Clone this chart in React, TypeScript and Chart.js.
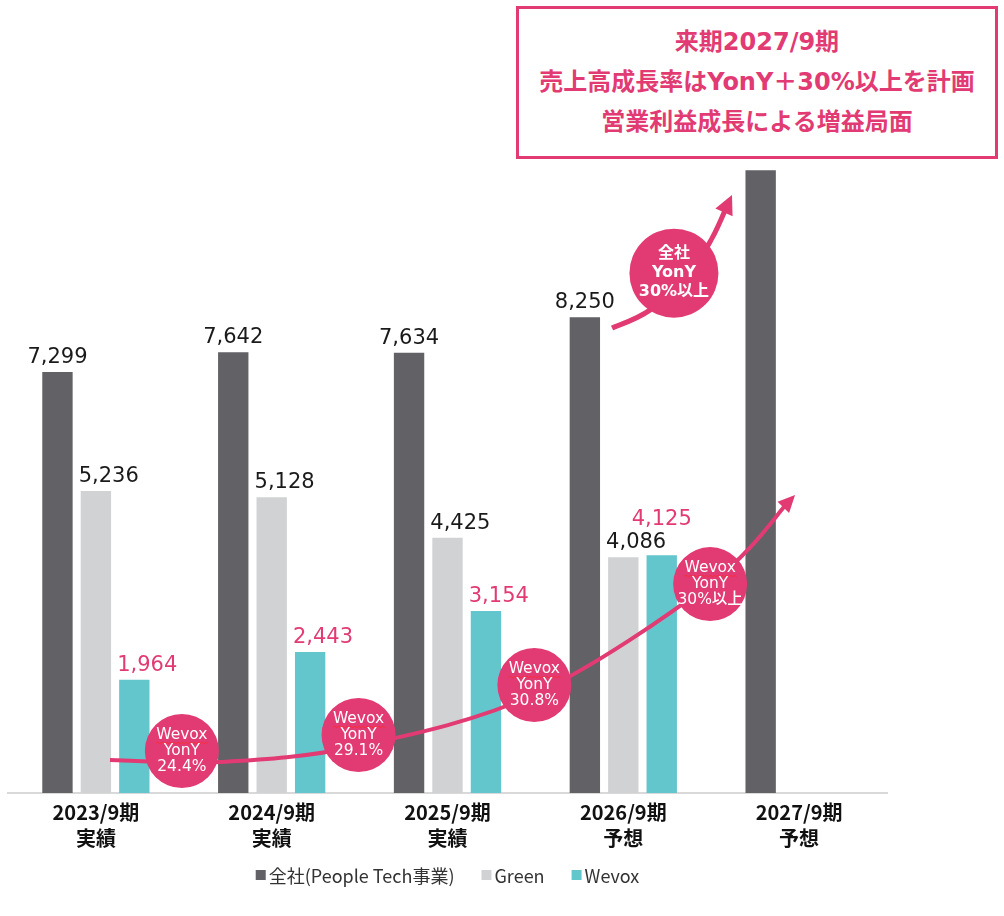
import React, { useEffect, useRef } from 'react';
import { Chart, registerables } from 'chart.js';

Chart.register(...registerables);

// ---------- data ----------
const categories: string[][] = [
  ['2023/9期', '実績'],
  ['2024/9期', '実績'],
  ['2025/9期', '実績'],
  ['2026/9期', '予想'],
  ['2027/9期', '予想'],
];
const seriesNames = ['全社(People Tech事業)', 'Green', 'Wevox'];
const totalValues = [7299, 7642, 7634, 8250, 10800];
const greenValues: (number | null)[] = [5236, 5128, 4425, 4086, null];
const wevoxValues: (number | null)[] = [1964, 2443, 3154, 4125, null];
const showTotalLabel = [true, true, true, true, false];

// annotation paths in (category index, value) units
const wevoxTrend: number[][] = [
  [0.08, 572], [0.706, 537], [1.496, 815], [2.498, 1716], [3.499, 3641], [3.977, 5166],
];
const totalTrend: number[][] = [
  [2.936, 8062], [3.151, 8374], [3.379, 9033], [3.505, 9622], [3.618, 10368],
];
const wevoxBadges = [
  { x: 0.489, y: 728, lines: ['Wevox', 'YonY', '24.4%'] },
  { x: 1.494, y: 1006, lines: ['Wevox', 'YonY', '29.1%'] },
  { x: 2.494, y: 1872, lines: ['Wevox', 'YonY', '30.8%'] },
  { x: 3.494, y: 3623, lines: ['Wevox', 'YonY', '30%以上'] },
];
const totalBadge = { x: 3.288, y: 9015, lines: ['全社', 'YonY', '30%以上'] };
const calloutLines = ['来期2027/9期', '売上高成長率はYonY＋30%以上を計画', '営業利益成長による増益局面'];

// ---------- styles ----------
const PINK = '#e23a73';
const COLORS = ['#616166', '#d1d2d4', '#63c6cd'];
const LATIN = '"DejaVu Sans", "Noto Sans CJK JP", sans-serif';
const CJK = '"Noto Sans CJK JP", sans-serif';

function drawSpline(ctx: CanvasRenderingContext2D, pts: number[][]) {
  ctx.beginPath();
  ctx.moveTo(pts[0][0], pts[0][1]);
  for (let i = 0; i < pts.length - 1; i++) {
    const p0 = pts[i - 1] || pts[i];
    const p1 = pts[i];
    const p2 = pts[i + 1];
    const p3 = pts[i + 2] || p2;
    ctx.bezierCurveTo(
      p1[0] + (p2[0] - p0[0]) / 6, p1[1] + (p2[1] - p0[1]) / 6,
      p2[0] - (p3[0] - p1[0]) / 6, p2[1] - (p3[1] - p1[1]) / 6,
      p2[0], p2[1]
    );
  }
  ctx.stroke();
}

function drawArrow(ctx: CanvasRenderingContext2D, pts: number[][], width: number, headLen: number, headHalf: number) {
  const tip = pts[pts.length - 1];
  const prev = pts[pts.length - 2];
  let dx = tip[0] - prev[0];
  let dy = tip[1] - prev[1];
  const len = Math.hypot(dx, dy);
  dx /= len; dy /= len;
  const shortened = pts.slice(0, -1).concat([[tip[0] - dx * headLen * 0.6, tip[1] - dy * headLen * 0.6]]);
  ctx.save();
  ctx.strokeStyle = PINK;
  ctx.fillStyle = PINK;
  ctx.lineWidth = width;
  ctx.lineCap = 'butt';
  drawSpline(ctx, shortened);
  const bx = tip[0] - dx * headLen;
  const by = tip[1] - dy * headLen;
  ctx.beginPath();
  ctx.moveTo(tip[0], tip[1]);
  ctx.lineTo(bx - dy * headHalf, by + dx * headHalf);
  ctx.lineTo(bx + dy * headHalf, by - dx * headHalf);
  ctx.closePath();
  ctx.fill();
  ctx.restore();
}

function drawBadge(ctx: CanvasRenderingContext2D, cx: number, cy: number, r: number, lines: string[], font: string, lh: number, wavy: boolean) {
  ctx.save();
  ctx.fillStyle = PINK;
  ctx.beginPath();
  ctx.arc(cx, cy, r, 0, Math.PI * 2);
  ctx.fill();
  ctx.fillStyle = '#ffffff';
  ctx.font = font;
  ctx.textAlign = 'center';
  ctx.textBaseline = 'middle';
  lines.forEach((t, i) => {
    const y = cy + (i - (lines.length - 1) / 2) * lh;
    ctx.fillText(t, cx, y);
    if (wavy && i === 0) {
      const w = ctx.measureText(t).width;
      ctx.strokeStyle = '#ff2a2a';
      ctx.lineWidth = 0.8;
      ctx.beginPath();
      let x = cx - w / 2;
      let up = true;
      ctx.moveTo(x, y + 8);
      while (x < cx + w / 2) {
        x += 2;
        ctx.lineTo(x, y + (up ? 7 : 9));
        up = !up;
      }
      ctx.stroke();
    }
  });
  ctx.restore();
}

const overlayPlugin = {
  id: 'overlay',
  afterDatasetsDraw(chart: any) {
    const ctx: CanvasRenderingContext2D = chart.ctx;
    const xs = chart.scales.x;
    const ys = chart.scales.y;
    const P = (p: number[]) => [xs.getPixelForValue(p[0]), ys.getPixelForValue(p[1])];

    // value labels
    const metas = [0, 1, 2].map((i) => chart.getDatasetMeta(i));
    ctx.save();
    ctx.font = `21px ${LATIN}`;
    ctx.textBaseline = 'alphabetic';
    metas.forEach((meta: any, di: number) => {
      const values = chart.data.datasets[di].data;
      meta.data.forEach((bar: any, i: number) => {
        const v = values[i];
        if (v == null) return;
        if (di === 0 && !showTotalLabel[i]) return;
        const text = v.toLocaleString('en-US');
        let x = bar.x;
        let y = bar.y - 9;
        ctx.fillStyle = di === 2 ? PINK : '#1a1a1a';
        ctx.textAlign = 'center';
        if (di > 0) {
          ctx.textAlign = 'left';
          x = bar.x - bar.width / 2 - 2;
          if (di === 2) {
            const gBar = metas[1].data[i];
            if (gBar && Math.abs(gBar.y - bar.y) < 22) {
              ctx.textAlign = 'center';
              x = bar.x;
              y = bar.y - 30;
            }
          }
        }
        ctx.fillText(text, x, y);
      });
    });
    ctx.restore();

    // trend arrows
    drawArrow(ctx, wevoxTrend.map(P), 4, 17, 8);
    drawArrow(ctx, totalTrend.map(P), 5, 19, 9.5);

    // badges
    wevoxBadges.forEach((b) => {
      const [cx, cy] = P([b.x, b.y]);
      drawBadge(ctx, cx, cy, 37, b.lines, `500 15.5px ${LATIN}`, 16, true);
    });
    {
      const [cx, cy] = P([totalBadge.x, totalBadge.y]);
      drawBadge(ctx, cx, cy, 44.5, totalBadge.lines, `bold 16px ${LATIN}`, 19, false);
    }

    // legend
    const area = chart.chartArea;
    ctx.save();
    ctx.font = `18px ${CJK}`;
    ctx.textBaseline = 'middle';
    ctx.textAlign = 'left';
    const box = 10;
    const gapBox = 3;
    const gapItem = 27;
    const widths = seriesNames.map((n) => ctx.measureText(n).width);
    const total = widths.reduce((a, w) => a + box + gapBox + w, 0) + gapItem * (seriesNames.length - 1);
    let x = (area.left + area.right) / 2 - total / 2;
    const ly = area.bottom + 82;
    seriesNames.forEach((n, i) => {
      ctx.fillStyle = COLORS[i];
      ctx.fillRect(x, ly - box / 2, box, box);
      x += box + gapBox;
      ctx.fillStyle = '#333333';
      ctx.fillText(n, x, ly + 1);
      x += widths[i] + gapItem;
    });
    ctx.restore();
  },
};

export default function App() {
  const ref = useRef<HTMLCanvasElement>(null);

  useEffect(() => {
    const canvas = ref.current;
    if (!canvas) return;
    const chart = new Chart(canvas, {
      type: 'bar',
      data: {
        labels: categories,
        datasets: [
          { label: seriesNames[0], data: totalValues, backgroundColor: COLORS[0] },
          { label: seriesNames[1], data: greenValues, backgroundColor: COLORS[1] },
          { label: seriesNames[2], data: wevoxValues, backgroundColor: COLORS[2] },
        ],
      },
      options: {
        animation: false,
        responsive: true,
        maintainAspectRatio: false,
        layout: { padding: { left: 8, right: 117, top: 101, bottom: 63 } },
        datasets: {
          bar: { categoryPercentage: 0.656, barPercentage: 0.79 },
        },
        plugins: {
          legend: { display: false },
          tooltip: { enabled: false },
        },
        scales: {
          x: {
            grid: { display: false, drawTicks: false },
            border: { display: true, color: '#d9d9d9', width: 2 },
            ticks: {
              color: '#111111',
              padding: 6,
              font: { family: '"Noto Sans CJK JP", sans-serif', size: 20, weight: 'bold', lineHeight: 1.3 },
            },
            afterFit: (scale: any) => { scale.height = 60; },
          },
          y: { display: false, min: 0, max: 12000 },
        },
      },
      plugins: [overlayPlugin],
    } as any);
    return () => chart.destroy();
  }, []);

  return (
    <div style={{ position: 'absolute', left: 0, top: 0, width: 1004, height: 916, background: '#ffffff' }}>
      <canvas ref={ref} />
      <div
        style={{
          position: 'absolute',
          left: 516,
          top: 6,
          width: 482,
          height: 153,
          boxSizing: 'border-box',
          border: `3px solid ${PINK}`,
          paddingTop: 13,
          textAlign: 'center',
          color: PINK,
          fontFamily: LATIN,
          fontWeight: 'bold',
          fontSize: 24,
          lineHeight: '40px',
          background: '#ffffff',
        }}
      >
        {calloutLines.map((t) => (
          <div key={t}>{t}</div>
        ))}
      </div>
    </div>
  );
}
